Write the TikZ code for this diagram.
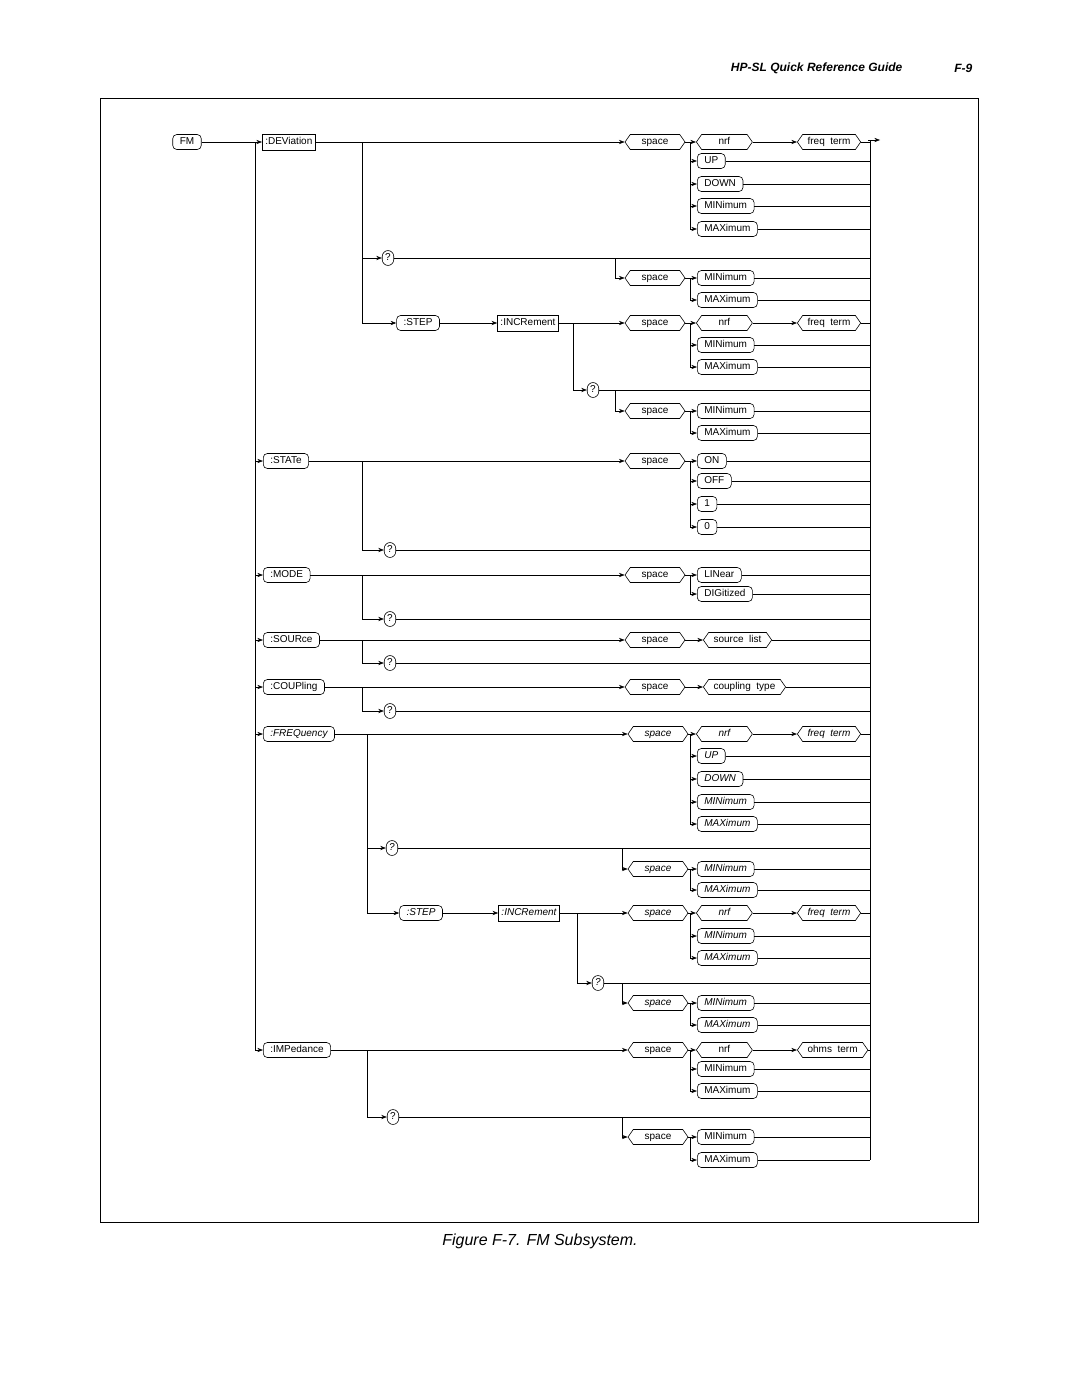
\documentclass[tikz,border=0pt]{standalone}
\usepackage{fontspec}
\setmainfont{Liberation Sans}
\usetikzlibrary{shapes.symbols,arrows.meta}
\newcommand{\kwfont}{\fontsize{10}{11}\selectfont}
\tikzset{
  kw/.style={draw,rounded corners=4pt,inner xsep=7pt,inner ysep=2pt,minimum height=15pt,text height=7pt,text depth=2pt,font=\kwfont},
  cmd/.style={draw,inner xsep=3pt,inner ysep=2pt,minimum height=16pt,text height=7pt,text depth=2pt,font=\kwfont},
  hexa/.style={draw,signal,signal to=east and west,signal pointer angle=110,inner xsep=5pt,inner ysep=2pt,minimum height=15pt,text height=7pt,text depth=2pt,font=\kwfont},
}
% space node, then the choices that hang under it
\newcommand{\spacerow}[4]{%
  \node[hexa,minimum width=60pt] (#1) at (#2,#3) {space};
  \draw (#1.east) -- (690,#3);
  \foreach \yy/\txt [count=\k] in {#4}{
    \node[kw,anchor=west] (#1-\k) at (697,\yy) {\txt};
    \draw[->] (690,#3) |- (#1-\k.west);
    \draw (#1-\k.east) -- (870,\yy);
  }}
% nrf followed by a term
\newcommand{\numrow}[3]{%
  \node[hexa,minimum width=56pt,anchor=west] (#1-n) at (696,#2) {nrf};
  \node[hexa,anchor=west] (#1-t) at (797,#2) {#3};
  \draw[->] (#1.east) -- (#1-n.west);
  \draw[->] (#1-n.east) -- (#1-t.west);
  \draw (#1-t.east) -- (870,#2);}
% query node joined to the bus
\newcommand{\query}[3]{%
  \node[kw,inner xsep=3pt,rounded corners=6pt] (#1) at (#2,#3) {?};
  \draw (#1.east) -- (870,#3);}
\begin{document}
\begin{tikzpicture}[x=1pt,y=-1pt,>=Stealth,line width=0.6pt]
\useasboundingbox (0,0) rectangle (1080,1397);
\node[font=\bfseries\itshape\fontsize{12}{14}\selectfont,anchor=east] (title) at (906,68) {HP-SL Quick Reference Guide};
\node[font=\bfseries\itshape\fontsize{12}{14}\selectfont,anchor=east] (page) at (976,68) {F-9};
\draw[line width=1pt] (100,98) rectangle (978,1222);
\node[font=\itshape\fontsize{16}{18}\selectfont] (caption) at (540,1241) {Figure F-7. FM Subsystem.};
% buses
\draw (255,142) -- (255,1051);
\draw[->] (868,140) -- (880,140);
\draw (870,140) -- (870,1160);
\node[kw] (fm) at (187,142) {FM};
\draw (fm.east) -- (255,142);
% :DEViation
\node[cmd,anchor=west] (dev) at (262,142) {:DEViation};
\draw[->] (255,142) -- (dev.west);
\spacerow{s1}{655}{142}{161/UP,184/DOWN,206/MINimum,229/MAXimum}
\numrow{s1}{142}{freq\ \ term}
\draw[->] (dev.east) -- (s1.west);
\query{q1}{388}{258}
\draw[->] (362,142) |- (q1.west);
\spacerow{s2}{655}{278}{278/MINimum,300/MAXimum}
\draw[->] (615,258) |- (s2.west);
\node[kw] (step1) at (418,323) {:STEP};
\draw[->] (362,142) |- (step1.west);
\node[cmd] (inc1) at (528,323) {:INCRement};
\draw[->] (step1.east) -- (inc1.west);
\spacerow{s3}{655}{323}{345/MINimum,367/MAXimum}
\numrow{s3}{323}{freq\ \ term}
\draw[->] (inc1.east) -- (s3.west);
\query{q2}{593}{390}
\draw[->] (573,323) |- (q2.west);
\spacerow{s4}{655}{411}{411/MINimum,433/MAXimum}
\draw[->] (615,390) |- (s4.west);
% :STATe
\node[kw,anchor=west] (state) at (263,461) {:STATe};
\draw[->] (255,461) -- (state.west);
\spacerow{s5}{655}{461}{461/ON,481/OFF,504/1,527/0}
\draw[->] (state.east) -- (s5.west);
\query{q3}{390}{550}
\draw[->] (362,461) |- (q3.west);
% :MODE
\node[kw,anchor=west] (mode) at (263,575) {:MODE};
\draw[->] (255,575) -- (mode.west);
\spacerow{s6}{655}{575}{575/LINear,594/DIGitized}
\draw[->] (mode.east) -- (s6.west);
\query{q4}{390}{619}
\draw[->] (362,575) |- (q4.west);
% :SOURce
\node[kw,anchor=west] (source) at (263,640) {:SOURce};
\draw[->] (255,640) -- (source.west);
\node[hexa,minimum width=60pt] (s7) at (655,640) {space};
\draw[->] (source.east) -- (s7.west);
\node[hexa,anchor=west] (slist) at (703,640) {source\ \ list};
\draw[->] (s7.east) -- (slist.west);
\draw (slist.east) -- (870,640);
\query{q5}{390}{663}
\draw[->] (362,640) |- (q5.west);
% :COUPling
\node[kw,anchor=west] (coup) at (263,687) {:COUPling};
\draw[->] (255,687) -- (coup.west);
\node[hexa,minimum width=60pt] (s8) at (655,687) {space};
\draw[->] (coup.east) -- (s8.west);
\node[hexa,anchor=west] (ctype) at (703,687) {coupling\ \ type};
\draw[->] (s8.east) -- (ctype.west);
\draw (ctype.east) -- (870,687);
\query{q6}{390}{711}
\draw[->] (362,687) |- (q6.west);
% :FREQuency
\begin{scope}
\renewcommand{\kwfont}{\fontsize{10}{11}\selectfont\itshape}
\node[kw,anchor=west] (freq) at (263,734) {:FREQuency};
\draw[->] (255,734) -- (freq.west);
\spacerow{s9}{658}{734}{756/UP,779/DOWN,802/MINimum,824/MAXimum}
\numrow{s9}{734}{freq\ \ term}
\draw[->] (freq.east) -- (s9.west);
\query{q7}{392}{848}
\draw[->] (367,734) |- (q7.west);
\spacerow{s10}{658}{869}{869/MINimum,890/MAXimum}
\draw[->] (622,848) |- (s10.west);
\node[kw] (step2) at (421,913) {:STEP};
\draw[->] (367,734) |- (step2.west);
\node[cmd] (inc2) at (529,913) {:INCRement};
\draw[->] (step2.east) -- (inc2.west);
\spacerow{s11}{658}{913}{936/MINimum,958/MAXimum}
\numrow{s11}{913}{freq\ \ term}
\draw[->] (inc2.east) -- (s11.west);
\query{q8}{598}{983}
\draw[->] (577,913) |- (q8.west);
\spacerow{s12}{658}{1003}{1003/MINimum,1025/MAXimum}
\draw[->] (622,983) |- (s12.west);
\end{scope}
% :IMPedance
\node[kw,anchor=west] (imp) at (263,1050) {:IMPedance};
\draw[->] (255,1050) -- (imp.west);
\spacerow{s13}{658}{1050}{1069/MINimum,1091/MAXimum}
\numrow{s13}{1050}{ohms\ \ term}
\draw[->] (imp.east) -- (s13.west);
\query{q9}{393}{1117}
\draw[->] (367,1050) |- (q9.west);
\spacerow{s14}{658}{1137}{1137/MINimum,1160/MAXimum}
\draw[->] (622,1117) |- (s14.west);
\end{tikzpicture}
\end{document}
